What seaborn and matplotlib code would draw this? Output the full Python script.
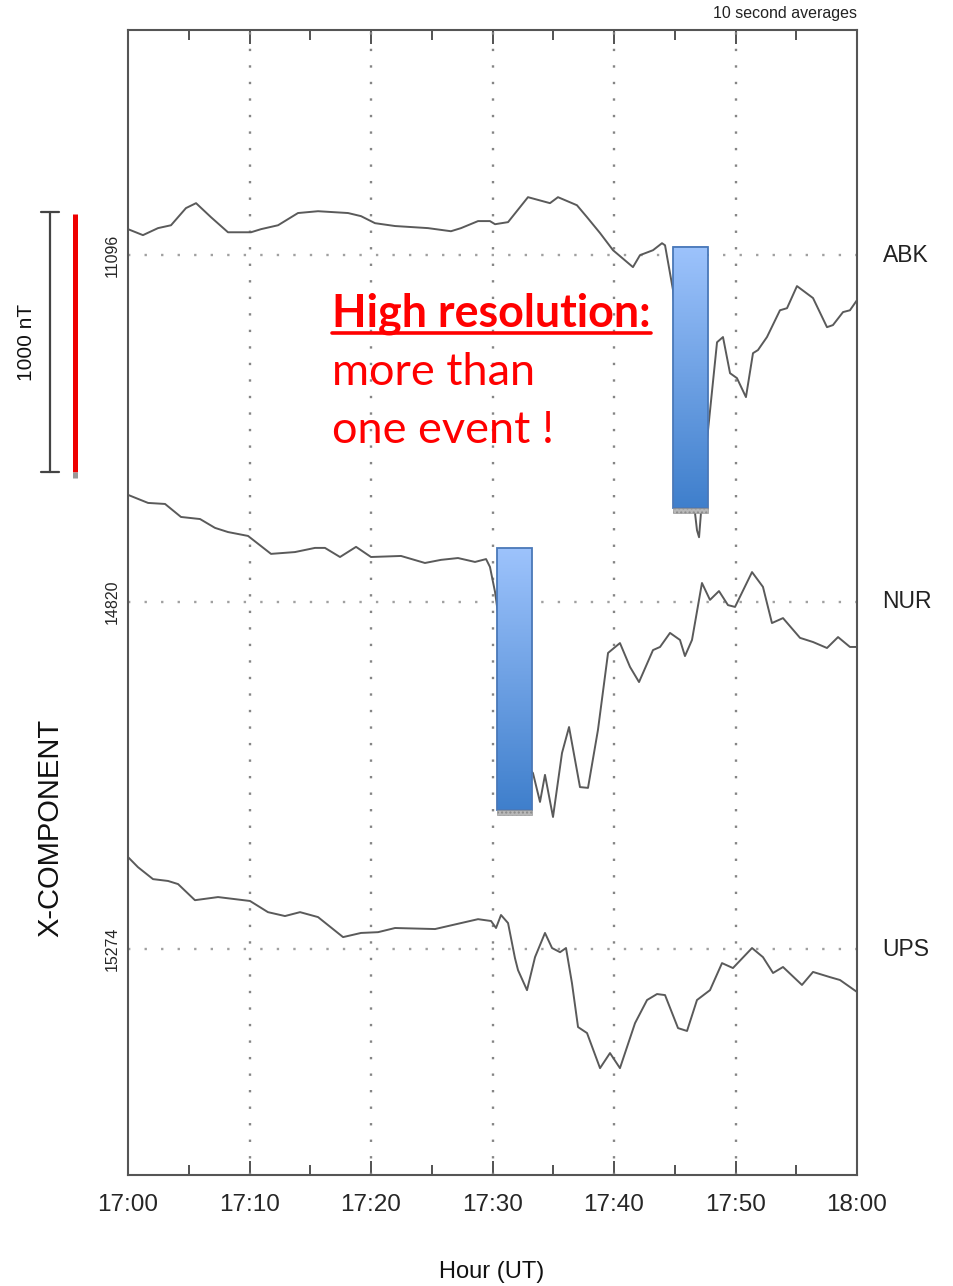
import numpy as np
import pandas as pd
import matplotlib
matplotlib.use("Agg")
import matplotlib.pyplot as plt
import seaborn as sns
from matplotlib.lines import Line2D
from matplotlib.patches import Rectangle
from matplotlib.colors import LinearSegmentedColormap
from matplotlib.ticker import MultipleLocator

sns.set_style("white")
plt.rcParams["font.family"] = ["Liberation Sans", "DejaVu Sans"]

# Station order (top to bottom), baseline values shown on the y axis
stations = ["ABK", "NUR", "UPS"]
baseline_labels = ["11096", "14820", "15274"]
# Vertical offset of each station baseline on the stacked nT axis
baseline_offsets = [3538, 2204, 869]

# Time in minutes after 17:00 UT and X-component deviation (nT) from baseline
abk_t = [0.0, 1.23, 2.47, 3.54, 4.77, 5.60, 6.83, 8.23, 10.12, 10.95, 12.35, 13.99,
         15.64, 18.11, 19.18, 20.33, 21.98, 24.69, 26.58, 27.41, 28.81, 29.79, 30.21,
         31.28, 32.92, 34.73, 35.39, 36.95, 37.78, 38.85, 39.92, 41.56, 42.14, 43.21,
         43.95, 44.20, 44.86, 45.43, 46.26, 46.83, 47.00, 47.24, 47.57, 47.74, 48.48,
         48.97, 49.55, 50.12, 50.86, 51.44, 51.85, 52.59, 53.66, 54.24, 55.06, 56.38,
         57.53, 58.02, 58.85, 59.42, 60.0]
abk_x = [100, 77, 104, 115, 181, 200, 146, 88, 88, 100, 115, 162,
         169, 162, 150, 123, 112, 104, 92, 104, 131, 131, 119,
         127, 223, 200, 223, 192, 146, 85, 19, -46, 0, 19,
         46, 38, -135, -481, -827, -1058, -1085, -942, -750, -673, -335,
         -315, -454, -473, -546, -377, -365, -315, -212, -204, -119, -165,
         -277, -269, -219, -212, -173]

nur_t = [0.0, 1.65, 3.05, 4.36, 5.93, 7.16, 8.23, 9.88, 11.77, 13.74, 15.39, 16.21,
         17.45, 18.77, 20.0, 22.47, 24.44, 25.76, 27.16, 28.56, 29.47, 29.79, 30.21,
         31.44, 32.43, 33.33, 33.91, 34.32, 34.98, 35.72, 36.30, 37.20, 37.86, 38.68,
         39.51, 40.49, 41.32, 42.06, 43.21, 43.79, 44.61, 45.43, 45.84, 46.42, 47.24,
         47.90, 48.64, 49.38, 49.96, 51.36, 52.26, 53.00, 53.91, 55.31, 56.38, 57.53,
         58.44, 59.42, 60.0]
nur_x = [412, 381, 377, 327, 319, 285, 269, 254, 185, 192, 208, 208,
         173, 212, 173, 177, 150, 162, 169, 154, 165, 135, 38,
         -377, -608, -658, -769, -665, -827, -581, -481, -712, -715, -492,
         -196, -158, -250, -308, -185, -173, -119, -146, -208, -146, 73,
         8, 42, -12, -19, 115, 58, -81, -62, -138, -154, -177,
         -135, -173, -173]

ups_t = [0.0, 0.82, 2.06, 3.29, 4.12, 5.51, 7.41, 10.04, 11.52, 12.92, 14.16, 15.64,
         17.70, 19.18, 20.58, 21.98, 25.27, 27.41, 28.81, 29.88, 30.29, 30.70, 31.28,
         31.85, 32.10, 32.84, 33.50, 34.32, 34.90, 35.56, 36.05, 36.54, 37.04, 37.78,
         38.85, 39.67, 40.49, 41.73, 42.72, 43.54, 44.20, 45.27, 46.01, 46.83, 47.90,
         48.89, 49.79, 51.36, 52.26, 53.09, 53.91, 55.47, 56.38, 57.78, 58.60, 60.0]
ups_x = [354, 315, 269, 262, 250, 188, 200, 185, 142, 127, 142, 123,
         46, 62, 65, 81, 77, 100, 115, 108, 81, 131, 100,
         -35, -81, -158, -31, 62, 4, -12, 4, -131, -300, -323,
         -458, -400, -458, -285, -196, -173, -177, -304, -315, -196, -158,
         -54, -73, 4, -31, -92, -69, -138, -88, -108, -119, -165]

# Highlighted event windows: (start min, end min, bottom nT, top nT)
event_boxes = [(44.86, 47.74, 2565, 3569), (30.37, 33.25, 1404, 2411)]

xtick_minutes = [0, 10, 20, 30, 40, 50, 60]
xtick_labels = ["17:00", "17:10", "17:20", "17:30", "17:40", "17:50", "18:00"]

Y_TOP = 4404

frames = []
for name, off, t, x in zip(stations, baseline_offsets,
                           [abk_t, nur_t, ups_t], [abk_x, nur_x, ups_x]):
    frames.append(pd.DataFrame({"station": name, "minute": t,
                                "value": np.asarray(x) + off}))
df = pd.concat(frames, ignore_index=True)

W, H = 954, 1286
fig = plt.figure(figsize=(W / 100, H / 100), dpi=100)
ax = fig.add_axes([128 / W, 1 - 1175 / H, (857 - 128) / W, (1175 - 30) / H])


def fx(px):
    return px / W


def fy(py):
    return 1 - py / H


# dotted guides
for m in [10, 20, 30, 40, 50]:
    ax.axvline(m, color="#858585", lw=1.7, ls=(0, (1, 6.0)), zorder=1)
for off in baseline_offsets:
    ax.axhline(off, color="#a0a0a0", lw=1.7, ls=(0, (1, 6.0)), zorder=1)

for name in stations:
    sns.lineplot(data=df[df.station == name], x="minute", y="value",
                 ax=ax, color="#5a5a5a", lw=1.4, sort=False,
                 estimator=None, legend=False, zorder=2)

# event windows with vertical gradient
grad_cmap = LinearSegmentedColormap.from_list("evt", ["#3f7fcc", "#9dc3fc"])
grad = np.linspace(0, 1, 256).reshape(-1, 1)
for (x0, x1, y0, y1) in event_boxes:
    ax.imshow(grad, cmap=grad_cmap, extent=[x0, x1, y0, y1], origin="lower",
              aspect="auto", zorder=4)
    ax.add_patch(Rectangle((x0, y0), x1 - x0, y1 - y0, fill=False,
                           ec="#4a78b8", lw=1.3, zorder=5))
    ax.add_patch(Rectangle((x0, y0 - 18), x1 - x0, 18, fc="#b8b8b8",
                           ec="#8a8a8a", lw=0.4, hatch="....", zorder=5))

ax.set_xlim(0, 60)
ax.set_ylim(0, Y_TOP)
ax.set_xticks(xtick_minutes)
ax.set_xticklabels(xtick_labels, fontsize=17.5)
ax.xaxis.set_minor_locator(MultipleLocator(5))
ax.tick_params(axis="x", which="major", direction="in", length=10, width=1.3,
               color="#444444", top=True, bottom=True, pad=14)
ax.tick_params(axis="x", which="minor", direction="in", length=7, width=1.3,
               color="#444444", top=True, bottom=True)
ax.set_yticks(baseline_offsets)
ax.set_yticklabels(baseline_labels, rotation=90, va="center", fontsize=11.5)
ax.tick_params(axis="y", length=0, pad=6)
ax.set_xlabel("")
ax.set_ylabel("")
for sp in ax.spines.values():
    sp.set_color("#555555")
    sp.set_linewidth(1.5)

fig.text(fx(492), fy(1272), "Hour (UT)", fontsize=17, ha="center",
         va="center", color="#111111")

for name, off in zip(stations, baseline_offsets):
    ax.text(1.035, off / Y_TOP, name, transform=ax.transAxes, fontsize=16.5,
            va="center", ha="left", color="#222222")

ax.text(1.0, 1.008, "10 second averages", transform=ax.transAxes,
        fontsize=11.5, ha="right", va="bottom", color="#222222")

fig.text(fx(50), fy(828), "X-COMPONENT", rotation=90, fontsize=21,
         ha="center", va="center", color="#111111")

# 1000 nT scale bar
bar_col = "#444444"
fig.add_artist(Line2D([fx(50), fx(50)], [fy(212), fy(472)], color=bar_col, lw=1.6))
fig.add_artist(Line2D([fx(41), fx(59)], [fy(212), fy(212)], color=bar_col, lw=1.6))
fig.add_artist(Line2D([fx(41), fx(59)], [fy(472), fy(472)], color=bar_col, lw=1.6))
fig.text(fx(27), fy(342), "1000 nT", rotation=90, fontsize=15,
         ha="center", va="center", color="#111111")
fig.add_artist(Line2D([fx(75), fx(75)], [fy(214), fy(472)], color="#ee0000",
                      lw=3.6, solid_capstyle="butt"))
fig.add_artist(Line2D([fx(75), fx(75)], [fy(472), fy(478)], color="#999999",
                      lw=3.6, solid_capstyle="butt"))

# red annotation
red = "#ff0000"
t1 = fig.text(fx(332), fy(327), "High resolution:", fontsize=32.3, color=red,
              fontweight="bold", family=["Lato", "DejaVu Sans"], ha="left",
              va="baseline")
fig.text(fx(332), fy(385), "more than", fontsize=32.5, color=red,
         family=["Lato", "DejaVu Sans"], ha="left", va="baseline")
fig.text(fx(332), fy(443), "one event !", fontsize=32.5, color=red,
         family=["Lato", "DejaVu Sans"], ha="left", va="baseline")
fig.canvas.draw()
bb = t1.get_window_extent()
fig.add_artist(Line2D([bb.x0 / W, bb.x1 / W], [fy(333), fy(333)],
                      color=red, lw=2.6))

fig.savefig("out.png", dpi=100)
